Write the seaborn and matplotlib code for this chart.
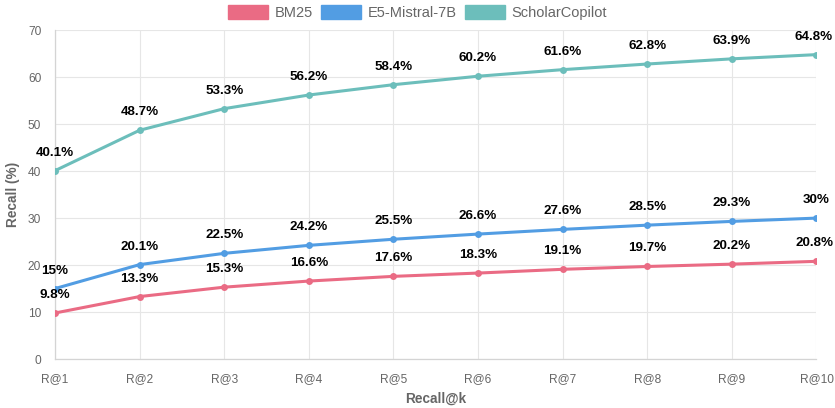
import matplotlib
matplotlib.use('Agg')
import matplotlib.pyplot as plt
import seaborn as sns
import pandas as pd
from matplotlib.patches import Patch

categorias = ['R@1', 'R@2', 'R@3', 'R@4', 'R@5', 'R@6', 'R@7', 'R@8', 'R@9', 'R@10']
bm25 = [9.8, 13.3, 15.3, 16.6, 17.6, 18.3, 19.1, 19.7, 20.2, 20.8]
e5 = [15, 20.1, 22.5, 24.2, 25.5, 26.6, 27.6, 28.5, 29.3, 30]
scholar = [40.1, 48.7, 53.3, 56.2, 58.4, 60.2, 61.6, 62.8, 63.9, 64.8]
series = ['BM25', 'E5-Mistral-7B', 'ScholarCopilot']
cores = ['#EA6B84', '#529DE3', '#6CBEBB']

dados = pd.DataFrame({
    'k': categorias * 3,
    'pos': list(range(len(categorias))) * 3,
    'recall': bm25 + e5 + scholar,
    'modelo': [s for s in series for _ in categorias],
})

sns.set_style('white')
plt.rcParams['font.family'] = ['Liberation Sans', 'DejaVu Sans']

fig = plt.figure(figsize=(8.35, 4.08), dpi=100)
ax = fig.add_axes([0.0659, 0.120, 0.9119, 0.806])

sns.lineplot(data=dados, x='pos', y='recall', hue='modelo', palette=cores,
             marker='o', markersize=5, markeredgewidth=0, linewidth=2.2,
             legend=False, ax=ax, zorder=3)

rotulos = []
for (nome, grupo) in dados.groupby('modelo'):
    for _, linha in grupo.iterrows():
        txt = f"{linha['recall']:g}%"
        a = ax.annotate(txt, (linha['pos'], linha['recall']), xytext=(0, 12),
                        textcoords='offset pixels', ha='center', va='bottom',
                        fontsize=9.6, fontweight='bold', color='black',
                        annotation_clip=False, zorder=4)
        rotulos.append(a)

ax.set_xlim(0, len(categorias) - 1)
ax.set_ylim(0, 70)
ax.set_xticks(range(len(categorias)))
ax.set_xticklabels(categorias)
ax.set_yticks(range(0, 71, 10))
ax.grid(True, color='#e6e6e6', linewidth=0.8)
for lado in ['top', 'right']:
    ax.spines[lado].set_visible(False)
for lado in ['left', 'bottom']:
    ax.spines[lado].set_color('#d4d4d4')
    ax.spines[lado].set_linewidth(0.9)
ax.tick_params(axis='both', colors='#e6e6e6', labelcolor='#666666',
               labelsize=8.6, length=6, width=0.8, pad=4)
ax.set_xlabel('Recall@k', fontsize=9.8, fontweight='bold', color='#666666', labelpad=5)
ax.set_ylabel('Recall (%)', fontsize=9.8, fontweight='bold', color='#666666', labelpad=6)

handles = [Patch(facecolor=c, edgecolor=c) for c in cores]
fig.legend(handles, series, loc='upper center', ncol=3, frameon=False,
           bbox_to_anchor=(0.5, 1.02), fontsize=10.5, handlelength=2.75,
           handleheight=1.15, columnspacing=0.55, handletextpad=0.45,
           labelcolor='#666666')

# empurra para dentro os rotulos que passam da borda direita
fig.canvas.draw()
r = fig.canvas.get_renderer()
for a in rotulos:
    bb = a.get_window_extent(r)
    excesso = bb.x1 - (fig.bbox.width - 2)
    if excesso > 0:
        a.set_position((-excesso, 12))

fig.savefig('out.png', dpi=100)
